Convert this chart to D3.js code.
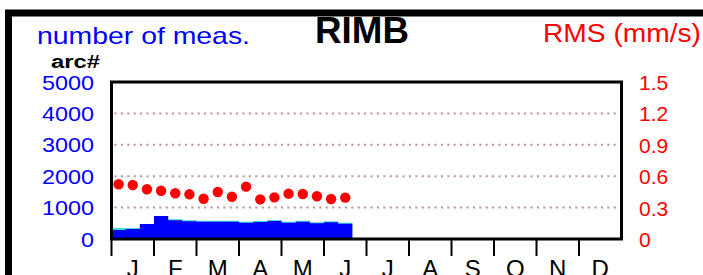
<!DOCTYPE html>
<html>
<head>
<meta charset="utf-8">
<script src="https://cdn.jsdelivr.net/npm/d3@7"></script>
<style>
  body { margin: 0; background: #fff; }
  text { font-family: "Liberation Sans", Arial, sans-serif; }
</style>
</head>
<body>
<div id="chart"></div>
<script>

// month labels along the bottom
let months = ["J", "F", "M", "A", "M", "J", "J", "A", "S", "O", "N", "D"];

// 10-day periods (dekads) with data, Jan 1 .. Jun 20
let dekads = d3.range(17);

// total number of measurements per dekad (cyan)
let nMeas = [350, 350, 478, 733, 627, 596, 583, 583, 583, 551, 573, 605, 551, 583, 532, 564, 519];

// number of arc measurements per dekad (blue)
let nArc = [287, 318, 478, 733, 596, 564, 551, 551, 551, 519, 541, 573, 519, 551, 500, 532, 487];

// RMS per dekad (mm/s)
let rms = [0.523, 0.516, 0.475, 0.461, 0.437, 0.427, 0.385, 0.449, 0.404, 0.500, 0.379, 0.398, 0.433, 0.430, 0.408, 0.382, 0.395];

let countTicks = [0, 1000, 2000, 3000, 4000, 5000];
let rmsTicks = [0, 0.3, 0.6, 0.9, 1.2, 1.5];

let W = 703, H = 275;
let margin = { top: 82, left: 111.5, right: 621.5, bottom: 239 };

let svg = d3.select("#chart")
	.append("svg")
	.attr("width", W)
	.attr("height", H);

// outer frame (only top and left edges show)
svg.append("rect")
	.attr("x", 8.5)
	.attr("y", 13)
	.attr("width", 900)
	.attr("height", 500)
	.attr("fill", "none")
	.attr("stroke", "#000")
	.attr("stroke-width", 7);

let x = d3.scaleLinear().domain([0, 36]).range([margin.left, margin.right]);
let xMonth = d3.scaleBand().domain(d3.range(12)).range([margin.left, margin.right]);
let y = d3.scaleLinear().domain([0, 5000]).range([margin.bottom, margin.top]);
let yR = d3.scaleLinear().domain([0, 1.5]).range([margin.bottom, margin.top]);

// dotted grid lines
svg.append("g")
	.selectAll("line")
	.data(countTicks.filter(d => d > 0 && d < 5000))
	.enter()
	.append("line")
	.attr("x1", margin.left + 3)
	.attr("x2", margin.right - 2)
	.attr("y1", d => y(d))
	.attr("y2", d => y(d))
	.attr("stroke", "#b89090")
	.attr("stroke-width", 2)
	.attr("stroke-dasharray", "2,4.4");

// step areas: total first, arc count on top
function stepArea(vals) {
	let pts = dekads.map(i => [i, vals[i]]);
	pts.push([dekads.length, vals[vals.length - 1]]);
	return d3.area()
		.curve(d3.curveStepAfter)
		.x(d => x(d[0]))
		.y0(y(0))
		.y1(d => y(d[1]))(pts);
}

svg.append("path").attr("d", stepArea(nMeas)).attr("fill", "#40d8d0");
svg.append("path").attr("d", stepArea(nArc)).attr("fill", "#0000ff");

// RMS dots
svg.selectAll(".dot")
	.data(dekads)
	.enter()
	.append("circle")
	.attr("cx", i => x(i + 0.5))
	.attr("cy", i => yR(rms[i]))
	.attr("r", 5.2)
	.attr("fill", "#ff0000");

// plot frame
svg.append("rect")
	.attr("x", margin.left)
	.attr("y", margin.top)
	.attr("width", margin.right - margin.left)
	.attr("height", margin.bottom - margin.top)
	.attr("fill", "none")
	.attr("stroke", "#000")
	.attr("stroke-width", 3);

// month ticks
svg.append("g")
	.selectAll("line")
	.data(d3.range(12))
	.enter()
	.append("line")
	.attr("x1", d => xMonth(d))
	.attr("x2", d => xMonth(d))
	.attr("y1", margin.bottom)
	.attr("y2", margin.bottom + 17)
	.attr("stroke", "#000")
	.attr("stroke-width", 2);

svg.append("g")
	.selectAll("text")
	.data(months)
	.enter()
	.append("text")
	.attr("x", (d, i) => xMonth(i) + xMonth.bandwidth() / 2)
	.attr("y", 277)
	.attr("text-anchor", "middle")
	.attr("font-size", 24)
	.text(d => d);

// left axis labels
svg.append("g")
	.selectAll("text")
	.data(countTicks)
	.enter()
	.append("text")
	.attr("x", 94)
	.attr("y", d => y(d) + 7.5)
	.attr("text-anchor", "end")
	.attr("font-size", 21)
	.attr("fill", "#0000ff")
	.attr("textLength", d => String(d).length * 13)
	.attr("lengthAdjust", "spacingAndGlyphs")
	.text(d => d);

// right axis labels
svg.append("g")
	.selectAll("text")
	.data(rmsTicks)
	.enter()
	.append("text")
	.attr("x", 639)
	.attr("y", d => yR(d) + 8)
	.attr("font-size", 21)
	.attr("fill", "#ff0000")
	.text(d => d);

// headings
svg.append("text")
	.attr("x", 37).attr("y", 44)
	.attr("font-size", 24)
	.attr("fill", "#0000ff")
	.attr("textLength", 213)
	.attr("lengthAdjust", "spacingAndGlyphs")
	.text("number of meas.");

svg.append("text")
	.attr("x", 51).attr("y", 68)
	.attr("font-size", 18)
	.attr("font-weight", "bold")
	.attr("textLength", 49)
	.attr("lengthAdjust", "spacingAndGlyphs")
	.text("arc#");

svg.append("text")
	.attr("x", 315).attr("y", 43)
	.attr("font-size", 36)
	.attr("font-weight", "bold")
	.attr("textLength", 94)
	.attr("lengthAdjust", "spacingAndGlyphs")
	.text("RIMB");

svg.append("text")
	.attr("x", 543).attr("y", 42)
	.attr("font-size", 25)
	.attr("fill", "#ff0000")
	.attr("textLength", 158)
	.attr("lengthAdjust", "spacingAndGlyphs")
	.text("RMS (mm/s)");

</script>
</body>
</html>
